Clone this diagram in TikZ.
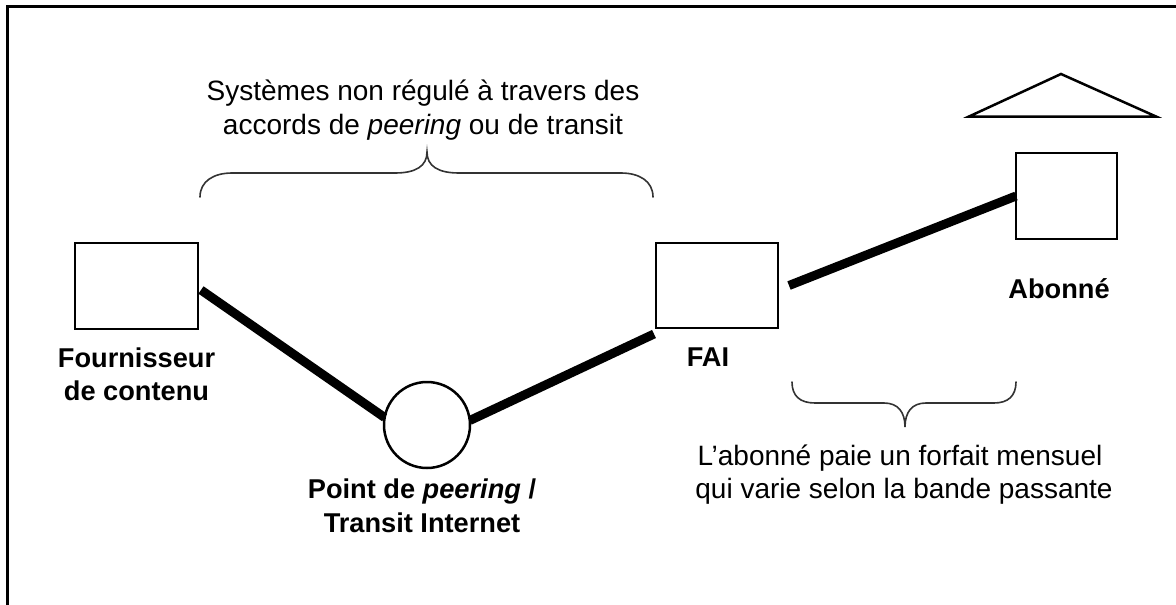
\documentclass[tikz,border=0pt]{standalone}
\usepackage{fontspec}
\setmainfont{Liberation Sans}
\begin{document}
\begin{tikzpicture}[x=1pt,y=-1pt,
  site/.style={draw, line width=2.5pt, inner sep=0pt, outer sep=0pt, fill=white},
  hub/.style={draw, circle, line width=2.5pt, inner sep=0pt, outer sep=0pt, minimum size=86pt},
  link/.style={line width=9pt},
  lbl/.style={font=\fontsize{27.2}{32}\selectfont\bfseries, anchor=base, inner sep=0pt},
  note/.style={font=\fontsize{28}{34}\selectfont, anchor=base, inner sep=0pt},
  curly/.style={line width=1.6pt, draw=black!80, line cap=round}]
\useasboundingbox (0,0) rectangle (1176,605);

% frame (top and left edges)
\draw[line width=3pt] (7,605) -- (7,6) -- (1176,6);

% sites
\node[site, minimum width=123pt, minimum height=86pt] (fp) at (136.5,286) {};
\node[hub] (px) at (427,425) {};
\node[site, minimum width=122pt, minimum height=85pt] (fai) at (717,285.5) {};
\node[site, minimum width=101pt, minimum height=86pt] (ab) at (1066.5,196) {};

% roof over the subscriber
\draw[line width=2.5pt, line join=miter] (969,116.5) -- (1061,74) -- (1156,116.5) -- cycle;

% links
\draw[link] ([xshift=3pt,yshift=-4pt]fp.east) -- (px.170);
\draw[link] (px.6) -- ([xshift=-2pt,yshift=-6pt]fai.south west);
\draw[link] ([xshift=11pt]fai.east) -- (ab.west);

% labels
\node[lbl] (fp1) at (136.5,367) {Fournisseur};
\node[lbl] (fp2) at (136.5,400) {de contenu};
\node[lbl] (px1) at (422,498) {Point de \textit{peering} /};
\node[lbl] (px2) at (422,532) {Transit Internet};
\node[lbl] (fai1) at (708,366) {FAI};
\node[lbl] (ab1) at (1059,298) {Abonné};

% notes
\node[note] (up1) at (423,100) {Systèmes non régulé à travers des};
\node[note] (up2) at (423,134) {accords de \textit{peering} ou de transit};
\node[note] (dn1) at (900,465) {L’abonné paie un forfait mensuel};
\node[note] (dn2) at (904,498) {qui varie selon la bande passante};

% braces
\draw[curly] (200,197) .. controls (200,181) and (214,173) .. (232,173) -- (395,173)
  .. controls (416,173) and (427,166) .. (427,152)
  .. controls (427,166) and (438,173) .. (459,173) -- (621,173)
  .. controls (639,173) and (653,181) .. (653,197);
\draw[curly] (792,382) .. controls (792,396) and (800,403) .. (815,403) -- (884,403)
  .. controls (898,403) and (905,412) .. (905,427)
  .. controls (905,412) and (912,403) .. (926,403) -- (994,403)
  .. controls (1008,403) and (1016,396) .. (1016,382);
\end{tikzpicture}
\end{document}
